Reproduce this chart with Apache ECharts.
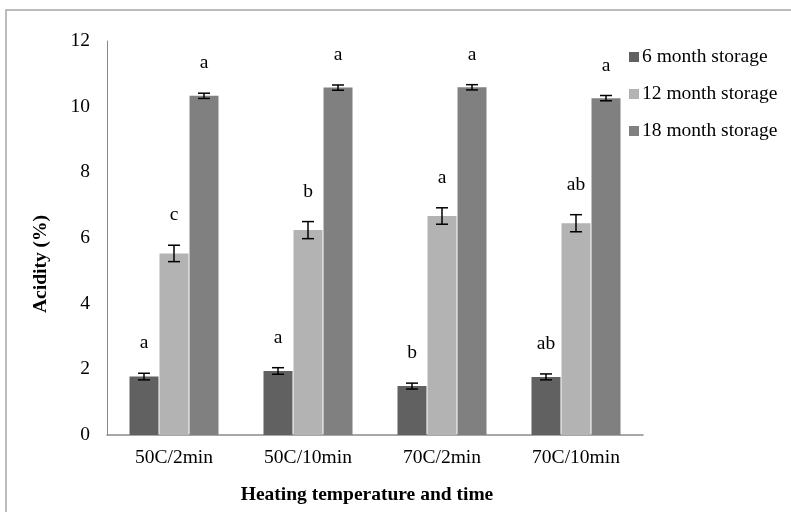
<!DOCTYPE html>
<html>
<head>
<meta charset="utf-8">
<script src="https://cdn.jsdelivr.net/npm/echarts@6/dist/echarts.min.js"></script>
<style>
html,body{margin:0;padding:0;background:#fff;}
#chart{width:791px;height:512px;}
</style>
</head>
<body>
<div id="chart"></div>
<script>
var categories = ['50C/2min', '50C/10min', '70C/2min', '70C/10min'];
var seriesNames = ['6 month storage', '12 month storage', '18 month storage'];
var month6 = [1.78, 1.95, 1.49, 1.77];
var month12 = [5.53, 6.24, 6.67, 6.45];
var month18 = [10.33, 10.58, 10.59, 10.26];
var err6 = [0.10, 0.10, 0.09, 0.09];
var err12 = [0.25, 0.26, 0.25, 0.26];
var err18 = [0.08, 0.08, 0.08, 0.08];
var letters6 = ['a', 'a', 'b', 'ab'];
var letters12 = ['c', 'b', 'a', 'ab'];
var letters18 = ['a', 'a', 'a', 'a'];
var yTicks = [0, 2, 4, 6, 8, 10, 12];

var colors = ['#616161', '#b3b3b3', '#808080'];
var BAR_W = 29, BAR_STEP = 30;
var FONT = '"Liberation Serif", "Times New Roman", serif';
var FS = 19.5;

var values = [month6, month12, month18];
var errs = [err6, err12, err18];
var letters = [letters6, letters12, letters18];

var chart = echarts.init(document.getElementById('chart'));

var series = [];
values.forEach(function (vals, si) {
  series.push({
    name: seriesNames[si],
    type: 'bar',
    data: vals,
    barWidth: BAR_W,
    barGap: '3.5%',
    itemStyle: { color: colors[si] },
    silent: true
  });
});
values.forEach(function (vals, si) {
  var d = vals.map(function (v, i) { return [i, v, errs[si][i]]; });
  series.push({
    type: 'custom',
    silent: true,
    z: 10,
    data: d,
    renderItem: function (params, api) {
      var idx = api.value(0), v = api.value(1), e = api.value(2);
      var lt = letters[si][params.dataIndex];
      var c = api.coord([idx, v]);
      var x = c[0] + (si - 1) * BAR_STEP;
      var top = api.coord([idx, v + e])[1];
      var bot = api.coord([idx, v - e])[1];
      var hw = 6;
      var st = { stroke: '#000', lineWidth: 1.5 };
      return {
        type: 'group',
        children: [
          { type: 'line', shape: { x1: x, y1: top, x2: x, y2: bot }, style: st },
          { type: 'line', shape: { x1: x - hw, y1: top, x2: x + hw, y2: top }, style: st },
          { type: 'line', shape: { x1: x - hw, y1: bot, x2: x + hw, y2: bot }, style: st },
          { type: 'text', x: x, y: top - 30, style: { text: lt, fill: '#000', font: FS + 'px ' + FONT, align: 'center', verticalAlign: 'middle' } }
        ]
      };
    }
  });
});

chart.setOption({
  animation: false,
  backgroundColor: '#fff',
  grid: { left: 107, right: 148, top: 41, bottom: 77, containLabel: false },
  legend: {
    orient: 'vertical',
    left: 624,
    top: 42,
    itemWidth: 10,
    itemHeight: 10,
    itemGap: 17,
    icon: 'rect',
    data: seriesNames,
    textStyle: { fontFamily: FONT, fontSize: FS, color: '#000', padding: [0, 0, 0, -2] },
    selectedMode: false
  },
  xAxis: {
    type: 'category',
    data: categories,
    axisLine: { lineStyle: { color: '#8a8a8a', width: 1.5 } },
    axisTick: { show: false },
    axisLabel: { fontFamily: FONT, fontSize: FS, color: '#000', margin: 13 }
  },
  yAxis: {
    type: 'value',
    min: yTicks[0],
    max: yTicks[yTicks.length - 1],
    interval: 2,
    axisLine: { show: true, lineStyle: { color: '#8a8a8a', width: 1 } },
    axisTick: { show: false },
    splitLine: { show: false },
    axisLabel: { fontFamily: FONT, fontSize: FS, color: '#000', margin: 17 }
  },
  graphic: [
    { type: 'rect', shape: { x: 6, y: 10, width: 800, height: 520 }, style: { fill: 'none', stroke: '#a6a6a6', lineWidth: 1.5 }, silent: true },
    { type: 'text', x: 367, y: 495, style: { text: 'Heating temperature and time', font: 'bold ' + FS + 'px ' + FONT, fill: '#000', align: 'center', verticalAlign: 'middle' } },
    { type: 'text', x: 41, y: 264, rotation: Math.PI / 2, style: { text: 'Acidity (%)', font: 'bold ' + FS + 'px ' + FONT, fill: '#000', align: 'center', verticalAlign: 'middle' } }
  ],
  series: series
});
</script>
</body>
</html>
